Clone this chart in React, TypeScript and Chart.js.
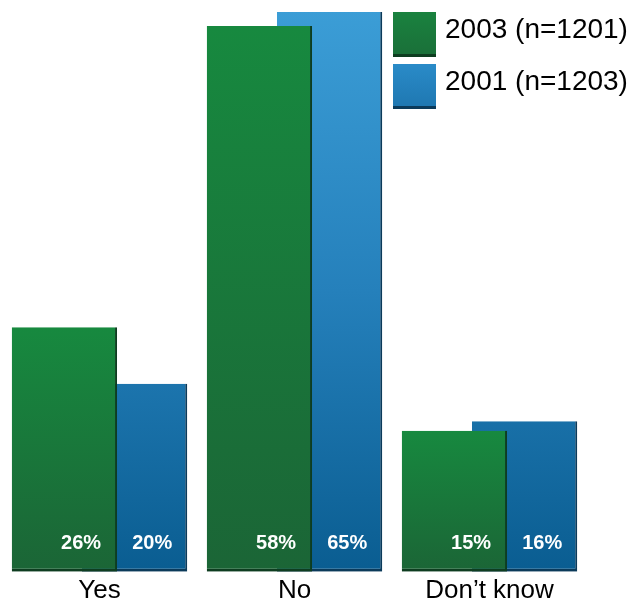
import React, { useEffect, useRef } from "react";
import { Chart, registerables } from "chart.js";

Chart.register(...registerables);

const categories = ["Yes", "No", "Don\u2019t know"];
const series2003 = [26, 58, 15];
const series2001 = [20, 65, 16];
const seriesNames = ["2003 (n=1201)", "2001 (n=1203)"];
const valueLabels2003 = ["26%", "58%", "15%"];
const valueLabels2001 = ["20%", "65%", "16%"];

const FONT = '"Liberation Sans", Arial, Helvetica, sans-serif';

const greenGradient = (context: any) => {
  const chart = context.chart;
  const { ctx, chartArea, scales } = chart;
  if (!chartArea || context.raw === undefined) return "#1a7a3d";
  const top = scales.y.getPixelForValue(context.raw);
  const bottom = scales.y.getPixelForValue(0);
  const t = Math.max(top, chartArea.top);
  const g = ctx.createLinearGradient(0, t, 0, bottom);
  g.addColorStop(0, "#17893f");
  g.addColorStop(1, "#1b6536");
  return g;
};

const blueGradient = (context: any) => {
  const chart = context.chart;
  const { ctx, chartArea } = chart;
  if (!chartArea) return "#1f76ad";
  const g = ctx.createLinearGradient(0, chartArea.top, 0, chartArea.bottom);
  g.addColorStop(0, "#3b9dd6");
  g.addColorStop(0.5, "#2580bb");
  g.addColorStop(1, "#0a5d91");
  return g;
};

const valueLabelPlugin = {
  id: "valueLabels",
  afterDatasetsDraw(chart: any) {
    const { ctx } = chart;
    const greenMeta = chart.getDatasetMeta(0);
    const blueMeta = chart.getDatasetMeta(1);
    ctx.save();
    ctx.fillStyle = "#ffffff";
    ctx.font = `bold 20px ${FONT}`;
    ctx.textBaseline = "middle";
    greenMeta.data.forEach((bar: any, i: number) => {
      const right = bar.x + bar.width / 2;
      ctx.textAlign = "right";
      ctx.fillText(valueLabels2003[i], right - 16, bar.base - 28);
      const blue = blueMeta.data[i];
      const blueRight = blue.x + blue.width / 2;
      ctx.textAlign = "center";
      ctx.fillText(valueLabels2001[i], (right + blueRight) / 2, blue.base - 28);
    });
    ctx.restore();
  },
};

export default function App() {
  const canvasRef = useRef<HTMLCanvasElement | null>(null);

  useEffect(() => {
    if (!canvasRef.current) return;
    const chart = new Chart(canvasRef.current, {
      type: "bar",
      data: {
        labels: categories,
        datasets: [
          {
            label: seriesNames[0],
            data: series2003,
            backgroundColor: greenGradient,
            borderColor: "#0e3d20",
            borderWidth: { top: 0, left: 0, right: 2, bottom: 3 },
            borderSkipped: false,
            barPercentage: 1.5,
            categoryPercentage: 0.72,
            clip: 0,
          },
          {
            label: seriesNames[1],
            data: series2001,
            backgroundColor: blueGradient,
            borderColor: "#0b3a5a",
            borderWidth: { top: 0, left: 0, right: 2, bottom: 3 },
            borderSkipped: false,
            barPercentage: 1.5,
            categoryPercentage: 0.72,
            clip: 0,
          },
        ],
      },
      options: {
        responsive: false,
        animation: false,
        layout: { padding: { top: 12, left: 2, right: 55, bottom: 4 } },
        plugins: {
          legend: { display: false },
          tooltip: { enabled: false },
        },
        scales: {
          x: {
            grid: { display: false },
            border: { display: false },
            ticks: {
              color: "#000000",
              font: { family: FONT, size: 26 },
              padding: -5,
            },
          },
          y: {
            display: false,
            min: 0,
            max: 59.5,
          },
        },
      },
      plugins: [valueLabelPlugin],
    });
    return () => chart.destroy();
  }, []);

  const legendItem = (color: string, dark: string, label: string, top: number) => (
    <div
      style={{
        position: "absolute",
        left: 393,
        top,
        display: "flex",
        alignItems: "flex-start",
      }}
    >
      <div
        style={{
          width: 43,
          height: 45,
          background: color,
          borderBottom: `3px solid ${dark}`,
          boxSizing: "border-box",
        }}
      />
      <div
        style={{
          marginLeft: 9,
          marginTop: 1,
          fontFamily: FONT,
          fontSize: 28,
          lineHeight: "32px",
          color: "#000",
          whiteSpace: "nowrap",
        }}
      >
        {label}
      </div>
    </div>
  );

  return (
    <div
      style={{
        position: "fixed",
        left: 0,
        top: 0,
        width: 642,
        height: 605,
        background: "#ffffff",
      }}
    >
      <canvas ref={canvasRef} width={642} height={605} />
      {legendItem("linear-gradient(#1a823f, #1a7039)", "#0e3d20", seriesNames[0], 12)}
      {legendItem("linear-gradient(#2a8bc8, #1f78b2)", "#0b3a5a", seriesNames[1], 64)}
    </div>
  );
}
